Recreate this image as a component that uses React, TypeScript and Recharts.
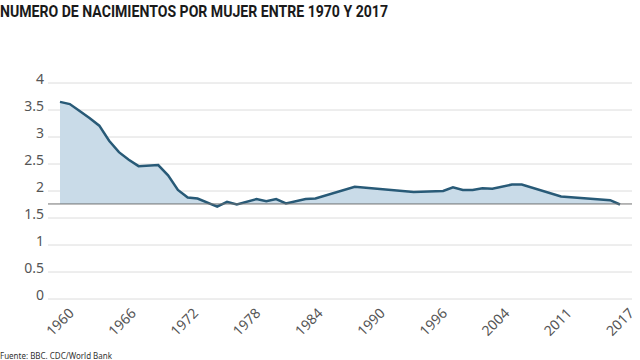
import {
  AreaChart, Area, XAxis, YAxis, CartesianGrid, ReferenceLine,
} from 'recharts'

const title = 'NUMERO DE NACIMIENTOS POR MUJER ENTRE 1970 Y 2017'
const source = 'Fuente: BBC. CDC/World Bank'

const years = [
  1960, 1961, 1962, 1963, 1964, 1965, 1966, 1967, 1968, 1970, 1971, 1972,
  1973, 1974, 1976, 1977, 1978, 1980, 1981, 1982, 1983, 1985, 1986, 1990,
  1996, 1999, 2000, 2001, 2002, 2003, 2004, 2006, 2007, 2011, 2016, 2017,
]
const births = [
  3.65, 3.61, 3.48, 3.35, 3.21, 2.93, 2.72, 2.58, 2.46, 2.48, 2.29, 2.02,
  1.88, 1.86, 1.71, 1.8, 1.75, 1.85, 1.81, 1.85, 1.77, 1.85, 1.86, 2.08,
  1.98, 2.0, 2.07, 2.02, 2.02, 2.05, 2.04, 2.12, 2.12, 1.9, 1.83, 1.75,
]
const xTickLabels = ['1960', '1966', '1972', '1978', '1984', '1990', '1996', '2004', '2011', '2017']
const yTicks = [0, 0.5, 1, 1.5, 2, 2.5, 3, 3.5, 4]
const baseline = 1.76

const data = years.map((y, i) => ({ year: y, value: births[i] }))

const first = years[0]
const last = years[years.length - 1]
const step = (last - first) / (xTickLabels.length - 1)
const xTicks = xTickLabels.map((_, i) => first + i * step)

const FONT = '"Noto Sans", "Open Sans", sans-serif'

function XTick({ x, y, payload }: any) {
  const idx = Math.round((payload.value - first) / step)
  return (
    <g transform={`translate(${x},${y + 23}) rotate(-45)`}>
      <text textAnchor="middle" dy="0.35em" fill="#555" fontSize={14} fontFamily={FONT}>
        {xTickLabels[idx]}
      </text>
    </g>
  )
}

function YTick({ x, y, payload }: any) {
  return (
    <text x={x} y={y - 4} textAnchor="end" dy="0.35em" fill="#555" fontSize={14} fontFamily={FONT}>
      {payload.value}
    </text>
  )
}

export default function App() {
  return (
    <div style={{ position: 'absolute', left: 0, top: 0, width: 640, height: 360, background: '#fff' }}>
      <svg width={640} height={24} style={{ position: 'absolute', left: 0, top: 0 }}>
        <text
          x={0} y={17} fontSize={16} fontWeight={700} fill="#1a1a1a"
          fontFamily="Roboto, sans-serif" textLength={388} lengthAdjust="spacingAndGlyphs"
        >
          {title}
        </text>
      </svg>
      <AreaChart
        width={640}
        height={360}
        data={data}
        margin={{ top: 83, right: 8, bottom: 11, left: 0 }}
      >
        <CartesianGrid vertical={false} stroke="#dcdcdc" />
        <XAxis
          dataKey="year"
          type="number"
          domain={[first, last]}
          ticks={xTicks}
          interval={0}
          padding={{ left: 12, right: 12 }}
          axisLine={false}
          tickLine={false}
          tickSize={0}
          tickMargin={0}
          height={50}
          tick={<XTick />}
        />
        <YAxis
          domain={[0, 4]}
          ticks={yTicks}
          width={48}
          axisLine={false}
          tickLine={false}
          tickSize={0}
          tickMargin={4}
          tick={<YTick />}
        />
        <Area
          type="linear"
          dataKey="value"
          baseValue={baseline}
          stroke="#285a77"
          strokeWidth={2.5}
          fill="#c9dbe8"
          fillOpacity={1}
          isAnimationActive={false}
          dot={false}
          activeDot={false}
        />
        <ReferenceLine y={baseline} stroke="#707070" strokeWidth={1} />
      </AreaChart>
      <svg width={640} height={14} style={{ position: 'absolute', left: 0, top: 346 }}>
        <text
          x={0} y={12.5} fontSize={9} fill="#333" fontFamily={FONT}
          textLength={112} lengthAdjust="spacingAndGlyphs"
        >
          {source}
        </text>
      </svg>
    </div>
  )
}
